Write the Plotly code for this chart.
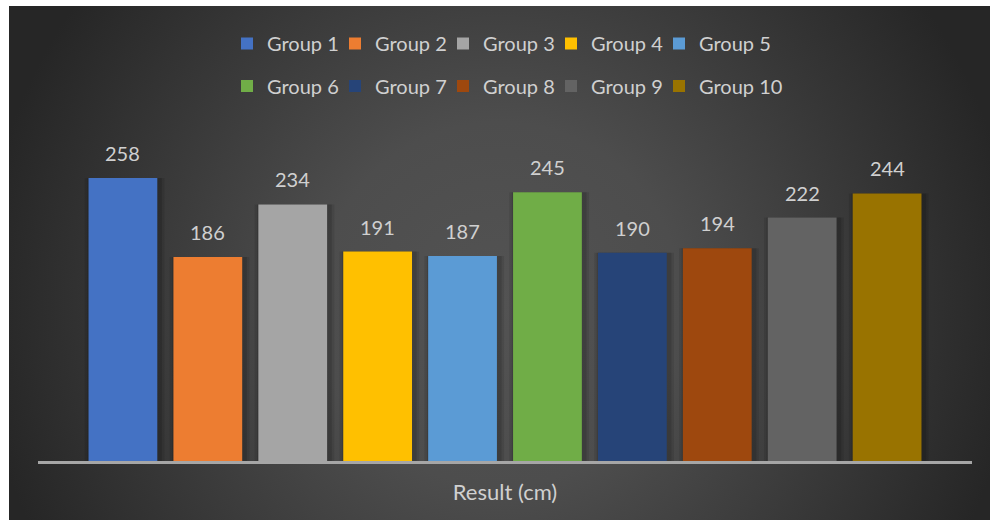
import base64
import plotly.graph_objects as go

# ---- data ----
groups = ["Group 1", "Group 2", "Group 3", "Group 4", "Group 5",
          "Group 6", "Group 7", "Group 8", "Group 9", "Group 10"]
values = [258, 186, 234, 191, 187, 245, 190, 194, 222, 244]
colors = ["#4472C4", "#ED7D31", "#A5A5A5", "#FFC000", "#5B9BD5",
          "#70AD47", "#264478", "#9E480E", "#636363", "#997300"]
axis_label = "Result (cm)"

W, H = 990, 520
L, R, T, B = 38, 18, 132, 59
FONT = "Lato, 'Open Sans', sans-serif"
TXT = "#d0d0d0"
BAR_W = 0.81

# background (radial dark gradient) as an SVG image
bg_w, bg_h = W - 9, H - 6
svg = f"""<svg xmlns='http://www.w3.org/2000/svg' width='{bg_w}' height='{bg_h}'>
<defs><radialGradient id='g' gradientUnits='userSpaceOnUse' cx='{bg_w/2}' cy='{bg_h*0.58}' r='{bg_w*0.53}'>
<stop offset='0' stop-color='#535353'/><stop offset='0.35' stop-color='#4d4d4d'/>
<stop offset='1' stop-color='#262626'/></radialGradient></defs>
<rect width='{bg_w}' height='{bg_h}' fill='url(#g)'/></svg>"""
src = "data:image/svg+xml;base64," + base64.b64encode(svg.encode()).decode()

pw, ph = W - L - R, H - T - B
xs = list(range(len(values)))

fig = go.Figure()
# soft shadows behind the bars
for extra, alpha in [(0.13, 0.09), (0.07, 0.12)]:
    fig.add_trace(go.Bar(
        x=[x + 0.02 for x in xs], y=values, width=BAR_W + extra,
        marker=dict(color=f"rgba(0,0,0,{alpha})", line=dict(width=0)),
        showlegend=False, hoverinfo="skip",
    ))

for i, (g, v, c) in enumerate(zip(groups, values, colors)):
    fig.add_trace(go.Bar(
        x=[xs[i]], y=[v], name=g, width=BAR_W,
        marker=dict(color=c, line=dict(width=0)),
        legend="legend" if i < 5 else "legend2",
        hoverinfo="name+y",
    ))
    fig.add_annotation(x=xs[i], y=v, text=str(v), showarrow=False,
                       yanchor="middle", yshift=25,
                       font=dict(family=FONT, size=20, color=TXT))

# invisible spacer entries so the last legend label is not clipped
for lg in ["legend", "legend2"]:
    fig.add_trace(go.Bar(x=[None], y=[None], name=" ", legend=lg,
                         marker=dict(color="rgba(0,0,0,0)",
                                     line=dict(width=0, color="rgba(0,0,0,0)")),
                         hoverinfo="skip", showlegend=True))

legend_common = dict(orientation="h", xref="container", yref="container",
                     xanchor="left", yanchor="middle", x=227 / W,
                     bgcolor="rgba(0,0,0,0)", entrywidth=63,
                     font=dict(family=FONT, size=20, color=TXT),
                     traceorder="normal", itemclick=False, itemdoubleclick=False)

fig.update_layout(
    width=W, height=H,
    margin=dict(l=L, r=R, t=T, b=B, autoexpand=False),
    paper_bgcolor="white", plot_bgcolor="rgba(0,0,0,0)",
    barmode="overlay",
    showlegend=True,
    legend=dict(legend_common, y=1 - 43.5 / H),
    legend2=dict(legend_common, y=1 - 86 / H),
    xaxis=dict(range=[-1, 10], showticklabels=False, ticks="", showgrid=False,
               zeroline=False, showline=True, linecolor="#a6a6a6", linewidth=3,
               fixedrange=True,
               title=dict(text=axis_label, standoff=22,
                          font=dict(family=FONT, size=22, color=TXT))),
    yaxis=dict(range=[0, 300], visible=False, fixedrange=True),
    images=[dict(source=src, xref="paper", yref="paper",
                 x=(9 - L) / pw, y=(H - B - 6) / ph,
                 sizex=bg_w / pw, sizey=bg_h / ph,
                 xanchor="left", yanchor="top", sizing="stretch",
                 layer="below")],
    font=dict(family=FONT, color=TXT),
)

fig.write_html("out.html", config={"displayModeBar": False},
               post_script="document.body.style.margin='0';document.body.style.overflow='hidden';")
